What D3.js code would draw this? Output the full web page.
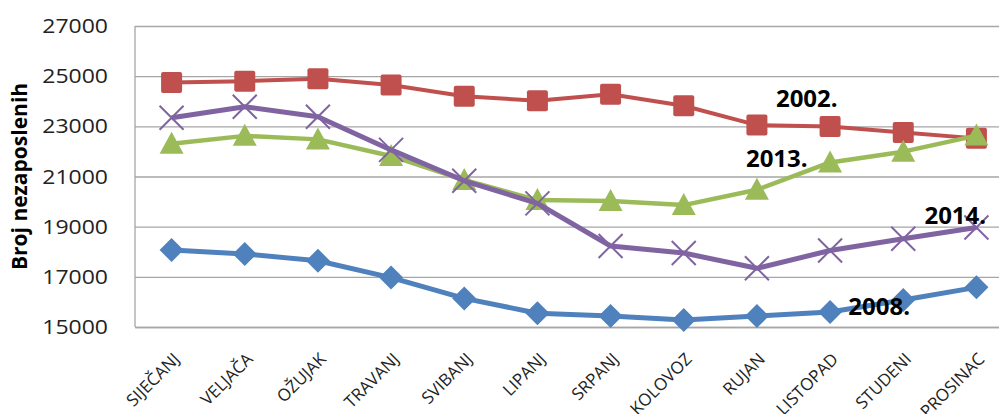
<!DOCTYPE html>
<html>
<head>
<meta charset="utf-8">
<script src="https://cdn.jsdelivr.net/npm/d3@7"></script>
<style>
  body { margin: 0; background: #fff; }
  svg { display: block; }
</style>
</head>
<body>
<svg id="chart" width="999" height="414"></svg>
<script>
const months = ["SIJEČANJ", "VELJAČA", "OŽUJAK", "TRAVANJ", "SVIBANJ", "LIPANJ",
  "SRPANJ", "KOLOVOZ", "RUJAN", "LISTOPAD", "STUDENI", "PROSINAC"];
const y2002 = [24750, 24800, 24900, 24650, 24200, 24020, 24280, 23820, 23050, 22990, 22750, 22520];
const y2008 = [18070, 17910, 17640, 16970, 16140, 15550, 15440, 15280, 15440, 15600, 16080, 16580];
const y2013 = [22310, 22620, 22480, 21820, 20860, 20060, 20020, 19860, 20470, 21560, 21990, 22630];
const y2014 = [23340, 23780, 23380, 22060, 20830, 19930, 18230, 17950, 17340, 18050, 18520, 18970];
const yTicks = [15000, 17000, 19000, 21000, 23000, 25000, 27000];
const yTitle = "Broj nezaposlenih";

const svg = d3.select("#chart");
const plotL = 135, plotR = 1013, plotT = 26, plotB = 327;

const x = d3.scaleBand().domain(months).range([plotL, plotR]);
const cx = m => x(m) + x.bandwidth() / 2;
const y = d3.scaleLinear().domain([15000, 27000]).range([plotB, plotT]);

// gridlines
svg.append("g")
  .attr("transform", "translate(" + plotL + ",0)")
  .call(d3.axisLeft(y).tickValues(yTicks).tickSize(-(plotR - plotL)).tickFormat(""))
  .call(g => g.select(".domain").remove())
  .call(g => g.selectAll("line").attr("stroke", "#a6a6a6").attr("stroke-width", 1.3));

// left axis line
svg.append("line").attr("x1", plotL).attr("x2", plotL).attr("y1", plotT).attr("y2", plotB)
  .attr("stroke", "#a6a6a6").attr("stroke-width", 1.3);

// y tick labels
svg.append("g")
  .selectAll("text")
  .data(yTicks)
  .join("text")
  .attr("transform", d => "translate(108," + y(d) + ") scale(1.15,1)")
  .attr("text-anchor", "end")
  .attr("dy", "0.35em")
  .style("font-family", "'Open Sans', sans-serif")
  .style("font-size", "20px")
  .attr("fill", "#222")
  .text(d => d);

svg.append("text")
  .attr("transform", "translate(27," + ((plotT + plotB) / 2) + ") rotate(-90)")
  .attr("text-anchor", "middle")
  .style("font-family", "'Open Sans', sans-serif")
  .style("font-size", "21px")
  .style("font-weight", "bold")
  .attr("fill", "#000")
  .text(yTitle);

// x axis
svg.append("g")
  .attr("transform", "translate(0," + plotB + ")")
  .call(d3.axisBottom(x).tickSize(0).tickPadding(0))
  .call(g => g.select(".domain").attr("stroke", "#a6a6a6").attr("stroke-width", 1.3))
  .call(g => g.selectAll("text")
    .attr("text-anchor", "end")
    .attr("transform", "translate(5,29) rotate(-45)")
    .attr("dy", "0.35em")
    .style("font-family", "'Open Sans', sans-serif")
    .style("font-size", "17px")
    .attr("fill", "#222"));

const line = d3.line().x((d, i) => cx(months[i])).y(d => y(d));

function drawLine(vals, color, w) {
  svg.append("path").datum(vals).attr("d", line)
    .attr("fill", "none").attr("stroke", color).attr("stroke-width", w)
    .attr("stroke-linejoin", "round");
}

// 2002 - red squares
drawLine(y2002, "#c0504d", 4);
svg.append("g").selectAll("rect").data(y2002).join("rect")
  .attr("x", (d, i) => cx(months[i]) - 10.5).attr("y", d => y(d) - 10.5)
  .attr("width", 21).attr("height", 21).attr("rx", 2)
  .attr("fill", "#c0504d");

// 2008 - blue diamonds
drawLine(y2008, "#4f81bd", 5);
svg.append("g").selectAll("path").data(y2008).join("path")
  .attr("transform", (d, i) => "translate(" + cx(months[i]) + "," + y(d) + ")")
  .attr("d", "M0,-12L12,0L0,12L-12,0Z")
  .attr("fill", "#4f81bd");

// 2013 - green triangles
drawLine(y2013, "#9bbb59", 4.5);
svg.append("g").selectAll("path").data(y2013).join("path")
  .attr("transform", (d, i) => "translate(" + cx(months[i]) + "," + y(d) + ")")
  .attr("d", "M0,-12L12,10L-12,10Z")
  .attr("fill", "#9bbb59");

// 2014 - purple crosses
drawLine(y2014, "#8064a2", 5);
svg.append("g").selectAll("path").data(y2014).join("path")
  .attr("transform", (d, i) => "translate(" + cx(months[i]) + "," + y(d) + ")")
  .attr("d", "M-12,-12L12,12M-12,12L12,-12")
  .attr("fill", "none").attr("stroke", "#8064a2").attr("stroke-width", 2);

// series labels
const labels = [
  { text: "2002.", vals: y2002, i: 8, dx: 19, dy: -18 },
  { text: "2013.", vals: y2013, i: 8, dx: -11, dy: -23 },
  { text: "2014.", vals: y2014, i: 11, dx: -52, dy: -3 },
  { text: "2008.", vals: y2008, i: 10, dx: -55, dy: 15 }
];
svg.append("g").selectAll("text").data(labels).join("text")
  .attr("x", d => cx(months[d.i]) + d.dx)
  .attr("y", d => y(d.vals[d.i]) + d.dy)
  .style("font-family", "'Open Sans', sans-serif")
  .style("font-size", "24px")
  .style("font-weight", "bold")
  .attr("fill", "#000")
  .text(d => d.text);
</script>
</body>
</html>
